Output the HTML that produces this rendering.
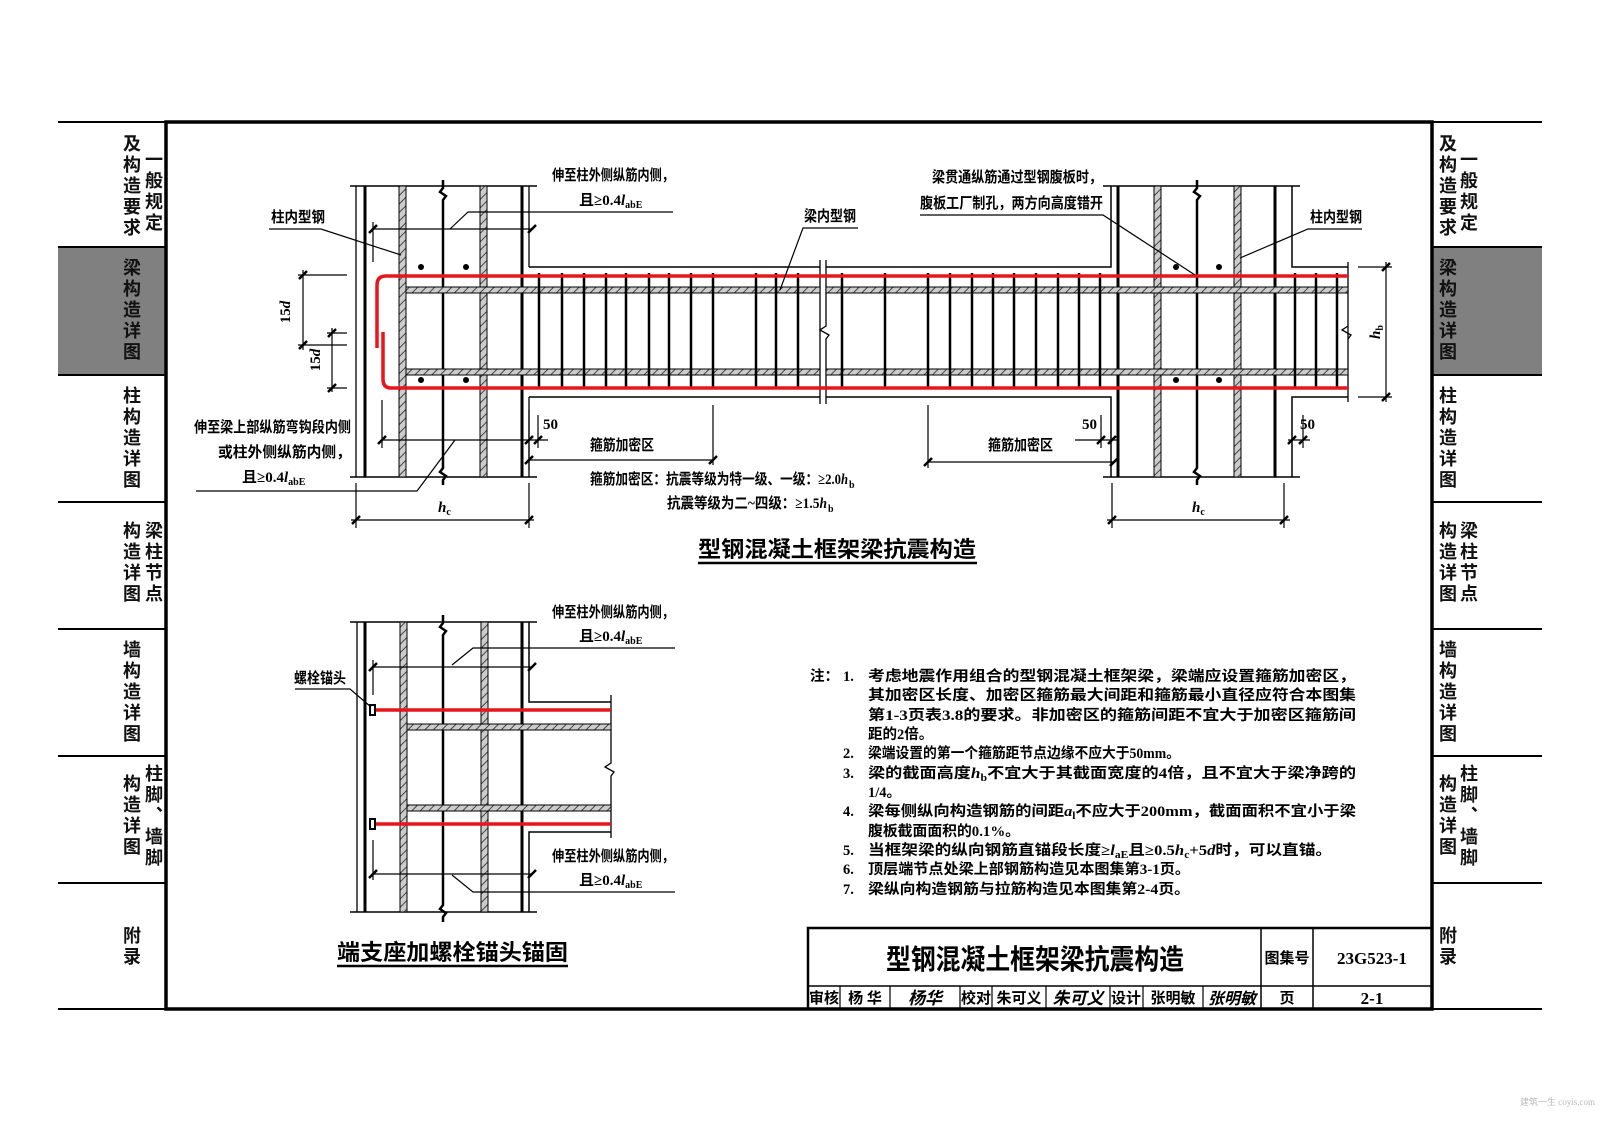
<!DOCTYPE html>
<html><head><meta charset="utf-8"><style>
html,body{margin:0;padding:0;background:#fff;}
body{width:1600px;height:1130px;position:relative;overflow:hidden;font-family:"Liberation Sans","Noto Sans CJK SC",sans-serif;}
svg{position:absolute;left:0;top:0;}
.v{position:absolute;writing-mode:vertical-rl;font-size:18px;font-weight:bold;line-height:18px;letter-spacing:3px;color:#111;font-family:"Liberation Sans","Noto Sans CJK SC",sans-serif;}
</style></head><body>
<svg width="1600" height="1130" viewBox="0 0 1600 1130" font-family="Liberation Serif, Noto Sans CJK SC, sans-serif">
<defs>
<pattern id="h" width="6" height="6" patternUnits="userSpaceOnUse" patternTransform="rotate(45)">
<rect width="6" height="6" fill="#ccc"/><line x1="0" y1="0" x2="0" y2="6" stroke="#444" stroke-width="2"/></pattern>
</defs>
<rect x="58" y="247" width="108" height="128" fill="#808080"/>
<rect x="1432" y="247" width="110" height="128" fill="#808080"/>
<g stroke="#000" stroke-width="2">
<line x1="58" y1="122" x2="166" y2="122"/><line x1="58" y1="247" x2="166" y2="247"/><line x1="58" y1="375" x2="166" y2="375"/><line x1="58" y1="502" x2="166" y2="502"/><line x1="58" y1="629" x2="166" y2="629"/><line x1="58" y1="756" x2="166" y2="756"/><line x1="58" y1="883" x2="166" y2="883"/><line x1="58" y1="1009" x2="166" y2="1009"/>
<line x1="1432" y1="122" x2="1542" y2="122"/><line x1="1432" y1="247" x2="1542" y2="247"/><line x1="1432" y1="375" x2="1542" y2="375"/><line x1="1432" y1="502" x2="1542" y2="502"/><line x1="1432" y1="629" x2="1542" y2="629"/><line x1="1432" y1="756" x2="1542" y2="756"/><line x1="1432" y1="883" x2="1542" y2="883"/><line x1="1432" y1="1009" x2="1542" y2="1009"/>
</g>
<rect x="166" y="122" width="1266" height="887" fill="none" stroke="#000" stroke-width="3.5"/>

<g stroke="#000" fill="none">
<line x1="350" y1="186" x2="537" y2="186" stroke-width="1.5"/>
<line x1="350" y1="477" x2="537" y2="477" stroke-width="1.5"/>
<line x1="356" y1="186" x2="356" y2="477" stroke-width="1.3"/>
<line x1="365" y1="186" x2="365" y2="477" stroke-width="3"/>
<line x1="522" y1="186" x2="522" y2="477" stroke-width="3"/>
<line x1="529" y1="186" x2="529" y2="267" stroke-width="1.3"/>
<line x1="529" y1="397" x2="529" y2="477" stroke-width="1.3"/>
<path d="M443 180 L443 188 L440 192 L446 196 L443 200 L443 468 L440 472 L446 476 L443 480 L443 485" stroke-width="2.5"/>
<path d="M529 267 L820 267 M826 267 L1111 267 L1111 186" stroke-width="1.5"/>
<path d="M529 397 L820 397 M826 397 L1111 397 L1111 477" stroke-width="1.5"/>
<line x1="1103" y1="186" x2="1300" y2="186" stroke-width="1.5"/>
<line x1="1103" y1="477" x2="1300" y2="477" stroke-width="1.5"/>
<line x1="1118" y1="186" x2="1118" y2="477" stroke-width="3"/>
<line x1="1275" y1="186" x2="1275" y2="477" stroke-width="3"/>
<path d="M1292 186 L1292 267 L1348 267 M1292 477 L1292 397 L1348 397" stroke-width="1.5"/>
<line x1="1348" y1="262" x2="1348" y2="402" stroke-width="1.3"/>
<path d="M1197 180 L1197 188 L1194 192 L1200 196 L1197 200 L1197 468 L1194 472 L1200 476 L1197 480 L1197 485" stroke-width="2.5"/>
<path d="M820 260 L820 404 M826 260 L826 326 L820 330 L829 335 L826 339 L826 404" stroke-width="1.3"/>
<path d="M1348 326 L1342 330 L1351 335 L1348 339" stroke-width="1.3"/>
</g>
<g stroke="#000" stroke-width="1" fill="url(#h)">
<rect x="399" y="186" width="7" height="291"/><rect x="480" y="186" width="7" height="291"/>
<rect x="1154" y="186" width="7" height="291"/><rect x="1234" y="186" width="7" height="291"/>
<rect x="406" y="287" width="414" height="6"/><rect x="826" y="287" width="522" height="6"/>
<rect x="406" y="369" width="414" height="6"/><rect x="826" y="369" width="522" height="6"/>
</g>
<g stroke="#000" stroke-width="2.5">
<line x1="539" y1="273" x2="539" y2="389"/><line x1="562" y1="273" x2="562" y2="389"/><line x1="584" y1="273" x2="584" y2="389"/><line x1="606" y1="273" x2="606" y2="389"/><line x1="626" y1="273" x2="626" y2="389"/><line x1="649" y1="273" x2="649" y2="389"/><line x1="669" y1="273" x2="669" y2="389"/><line x1="691" y1="273" x2="691" y2="389"/><line x1="713" y1="273" x2="713" y2="389"/><line x1="756" y1="273" x2="756" y2="389"/><line x1="776" y1="273" x2="776" y2="389"/><line x1="798" y1="273" x2="798" y2="389"/>
<line x1="842" y1="273" x2="842" y2="389"/><line x1="885" y1="273" x2="885" y2="389"/><line x1="928" y1="273" x2="928" y2="389"/><line x1="950" y1="273" x2="950" y2="389"/><line x1="972" y1="273" x2="972" y2="389"/><line x1="993" y1="273" x2="993" y2="389"/><line x1="1014" y1="273" x2="1014" y2="389"/><line x1="1036" y1="273" x2="1036" y2="389"/><line x1="1058" y1="273" x2="1058" y2="389"/><line x1="1079" y1="273" x2="1079" y2="389"/><line x1="1100" y1="273" x2="1100" y2="389"/>
<line x1="1295" y1="273" x2="1295" y2="389"/><line x1="1316" y1="273" x2="1316" y2="389"/><line x1="1337" y1="273" x2="1337" y2="389"/>
</g>
<g stroke="#e8161b" stroke-width="3.5" fill="none">
<path d="M1348 276 L386 276 Q377 276 377 285 L377 348"/>
<path d="M1348 388 L391 388 Q383 388 383 379 L383 332"/>
</g>
<g fill="#000"><circle cx="421" cy="267" r="3"/><circle cx="466" cy="267" r="3"/><circle cx="421" cy="380" r="3"/><circle cx="466" cy="380" r="3"/>
<circle cx="1176" cy="267" r="3"/><circle cx="1219" cy="267" r="3"/><circle cx="1176" cy="380" r="3"/><circle cx="1219" cy="380" r="3"/></g>

<g stroke="#000" stroke-width="1.2" fill="none">
<line x1="373" y1="229" x2="532" y2="229"/><line x1="373" y1="222" x2="373" y2="262"/>
<line x1="382" y1="440" x2="548" y2="440"/><line x1="382" y1="400" x2="382" y2="448"/><line x1="538" y1="415" x2="538" y2="448"/>
<line x1="529" y1="460" x2="713" y2="460"/><line x1="713" y1="405" x2="713" y2="465"/><line x1="529" y1="410" x2="529" y2="470"/>
<line x1="351" y1="520" x2="534" y2="520"/><line x1="356" y1="483" x2="356" y2="528"/><line x1="529" y1="483" x2="529" y2="528"/>
<line x1="298" y1="275" x2="347" y2="275"/><line x1="303" y1="270" x2="303" y2="350"/><line x1="298" y1="345" x2="347" y2="345"/>
<line x1="327" y1="333" x2="347" y2="333"/><line x1="332" y1="328" x2="332" y2="392"/><line x1="327" y1="388" x2="347" y2="388"/>
<line x1="1107" y1="520" x2="1290" y2="520"/><line x1="1112" y1="483" x2="1112" y2="528"/><line x1="1284" y1="483" x2="1284" y2="528"/>
<line x1="1075" y1="440" x2="1118" y2="440"/><line x1="1101" y1="415" x2="1101" y2="448"/>
<line x1="928" y1="462" x2="1114" y2="462"/><line x1="928" y1="405" x2="928" y2="468"/>
<line x1="1288" y1="440" x2="1310" y2="440"/><line x1="1303" y1="415" x2="1303" y2="448"/>
<line x1="1358" y1="267" x2="1392" y2="267"/><line x1="1358" y1="397" x2="1392" y2="397"/><line x1="1386" y1="262" x2="1386" y2="402"/>
<path d="M673 212 L468 212 L450 229"/>
<path d="M196 491 L417 491 L455 440"/>
<path d="M269 229 L321 229 L401 255"/>
<path d="M858 228 L803 228 L780 290"/>
<path d="M920 215 L1103 215 L1195 275"/>
<path d="M1362 229 L1308 229 L1240 258"/>
</g>
<g stroke="#000" stroke-width="2.5">
<line x1="369" y1="233" x2="377" y2="225"/><line x1="528" y1="233" x2="536" y2="225"/>
<line x1="378" y1="444" x2="386" y2="436"/><line x1="525" y1="444" x2="533" y2="436"/><line x1="534" y1="444" x2="542" y2="436"/>
<line x1="525" y1="464" x2="533" y2="456"/><line x1="709" y1="464" x2="717" y2="456"/>
<line x1="352" y1="524" x2="360" y2="516"/><line x1="525" y1="524" x2="533" y2="516"/>
<line x1="299" y1="279" x2="307" y2="271"/><line x1="299" y1="349" x2="307" y2="341"/><line x1="328" y1="337" x2="336" y2="329"/><line x1="328" y1="392" x2="336" y2="384"/>
<line x1="1108" y1="524" x2="1116" y2="516"/><line x1="1280" y1="524" x2="1288" y2="516"/>
<line x1="1097" y1="444" x2="1105" y2="436"/><line x1="1108" y1="444" x2="1116" y2="436"/>
<line x1="924" y1="466" x2="932" y2="458"/><line x1="1110" y1="466" x2="1118" y2="458"/>
<line x1="1288" y1="444" x2="1296" y2="436"/><line x1="1299" y1="444" x2="1307" y2="436"/>
<line x1="1382" y1="271" x2="1390" y2="263"/><line x1="1382" y1="401" x2="1390" y2="393"/>
</g>

<g font-size="15" font-weight="bold" fill="#000">
<text x="552" y="180" textLength="122" lengthAdjust="spacingAndGlyphs">伸至柱外侧纵筋内侧，</text>
<text x="579" y="205">且≥0.4<tspan font-style="italic">l</tspan><tspan font-size="10" dy="3">abE</tspan></text>
<text x="271" y="222" textLength="54" lengthAdjust="spacingAndGlyphs">柱内型钢</text>
<text x="804" y="221" textLength="52" lengthAdjust="spacingAndGlyphs">梁内型钢</text>
<text x="932" y="182" textLength="170" lengthAdjust="spacingAndGlyphs">梁贯通纵筋通过型钢腹板时，</text>
<text x="920" y="208" textLength="183" lengthAdjust="spacingAndGlyphs">腹板工厂制孔，两方向高度错开</text>
<text x="1310" y="222" textLength="52" lengthAdjust="spacingAndGlyphs">柱内型钢</text>
<text x="194" y="432" textLength="157" lengthAdjust="spacingAndGlyphs">伸至梁上部纵筋弯钩段内侧</text>
<text x="218" y="457" textLength="133" lengthAdjust="spacingAndGlyphs">或柱外侧纵筋内侧，</text>
<text x="242" y="482">且≥0.4<tspan font-style="italic">l</tspan><tspan font-size="10" dy="3">abE</tspan></text>
<text x="543" y="429">50</text>
<text x="590" y="450" textLength="64" lengthAdjust="spacingAndGlyphs">箍筋加密区</text>
<text x="590" y="484" textLength="258" lengthAdjust="spacingAndGlyphs">箍筋加密区：抗震等级为特一级、一级：≥2.0<tspan font-style="italic">h</tspan></text>
<text x="849" y="488" font-size="10">b</text>
<text x="667" y="508" textLength="160" lengthAdjust="spacingAndGlyphs">抗震等级为二~四级：≥1.5<tspan font-style="italic">h</tspan></text>
<text x="828" y="512" font-size="10">b</text>
<text x="988" y="450" textLength="65" lengthAdjust="spacingAndGlyphs">箍筋加密区</text>
<text x="1082" y="429">50</text>
<text x="1300" y="429">50</text>
<text x="438" y="512" font-style="italic">h<tspan font-size="10" dy="3" font-style="normal">c</tspan></text>
<text x="1192" y="512" font-style="italic">h<tspan font-size="10" dy="3" font-style="normal">c</tspan></text>
<text transform="translate(290,312) rotate(-90)" text-anchor="middle">15<tspan font-style="italic">d</tspan></text>
<text transform="translate(320,360) rotate(-90)" text-anchor="middle">15<tspan font-style="italic">d</tspan></text>
<text transform="translate(1380,332) rotate(-90)" text-anchor="middle" font-style="italic">h<tspan font-size="10" dy="3" font-style="normal">b</tspan></text>
</g>
<text x="698" y="557" font-size="22" font-weight="bold" textLength="278" lengthAdjust="spacingAndGlyphs" font-family="Liberation Sans, Noto Sans CJK SC, sans-serif">型钢混凝土框架梁抗震构造</text>
<line x1="698" y1="563" x2="977" y2="563" stroke="#000" stroke-width="2.5"/>

<g stroke="#000" fill="none">
<line x1="350" y1="622" x2="537" y2="622" stroke-width="1.5"/>
<line x1="350" y1="912" x2="537" y2="912" stroke-width="1.5"/>
<line x1="357" y1="622" x2="357" y2="912" stroke-width="1.3"/>
<line x1="365" y1="622" x2="365" y2="912" stroke-width="3"/>
<line x1="522" y1="622" x2="522" y2="912" stroke-width="3"/>
<path d="M529 622 L529 702 L611 702 M529 912 L529 832 L611 832" stroke-width="1.5"/>
<path d="M443 615 L443 623 L440 627 L446 631 L443 635 L443 905 L440 909 L446 913 L443 917 L443 922" stroke-width="2.5"/>
<path d="M611 695 L611 763 L605 767 L614 772 L611 776 L611 838" stroke-width="1.3"/>
</g>
<g stroke="#000" stroke-width="1" fill="url(#h)">
<rect x="400" y="622" width="7" height="290"/><rect x="481" y="622" width="7" height="290"/>
<rect x="407" y="724" width="204" height="6"/><rect x="407" y="805" width="204" height="6"/>
</g>
<g stroke="#e8161b" stroke-width="3.5"><line x1="376" y1="710" x2="611" y2="710"/><line x1="376" y1="824" x2="611" y2="824"/></g>
<g fill="#fff" stroke="#000" stroke-width="2"><rect x="370" y="705" width="5" height="10"/><rect x="370" y="819" width="5" height="10"/></g>
<g stroke="#000" stroke-width="1.2" fill="none">
<line x1="373" y1="667" x2="532" y2="667"/><line x1="373" y1="660" x2="373" y2="695"/>
<line x1="373" y1="874" x2="532" y2="874"/><line x1="373" y1="840" x2="373" y2="880"/>
<path d="M675 648 L473 648 L452 665"/>
<path d="M675 892 L473 892 L452 875"/>
<path d="M295 689 L350 689 L371 707"/>
</g>
<g stroke="#000" stroke-width="2.5">
<line x1="369" y1="671" x2="377" y2="663"/><line x1="528" y1="671" x2="536" y2="663"/>
<line x1="369" y1="878" x2="377" y2="870"/><line x1="528" y1="878" x2="536" y2="870"/>
</g>
<g font-size="15" font-weight="bold" fill="#000">
<text x="552" y="617" textLength="122" lengthAdjust="spacingAndGlyphs">伸至柱外侧纵筋内侧，</text>
<text x="579" y="641">且≥0.4<tspan font-style="italic">l</tspan><tspan font-size="10" dy="3">abE</tspan></text>
<text x="294" y="683" textLength="52" lengthAdjust="spacingAndGlyphs">螺栓锚头</text>
<text x="552" y="861" textLength="122" lengthAdjust="spacingAndGlyphs">伸至柱外侧纵筋内侧，</text>
<text x="579" y="885">且≥0.4<tspan font-style="italic">l</tspan><tspan font-size="10" dy="3">abE</tspan></text>
</g>
<text x="337" y="960" font-size="22" font-weight="bold" textLength="231" lengthAdjust="spacingAndGlyphs" font-family="Liberation Sans, Noto Sans CJK SC, sans-serif">端支座加螺栓锚头锚固</text>
<line x1="337" y1="966" x2="568" y2="966" stroke="#000" stroke-width="2.5"/>

<g font-size="14.5" font-weight="bold" fill="#000">
<text x="810" y="681">注：</text>
<text x="843" y="681">1.</text><text x="868" y="681" textLength="488" lengthAdjust="spacingAndGlyphs">考虑地震作用组合的型钢混凝土框架梁，梁端应设置箍筋加密区，</text>
<text x="868" y="700" textLength="488" lengthAdjust="spacingAndGlyphs">其加密区长度、加密区箍筋最大间距和箍筋最小直径应符合本图集</text>
<text x="868" y="720" textLength="488" lengthAdjust="spacingAndGlyphs">第1-3页表3.8的要求。非加密区的箍筋间距不宜大于加密区箍筋间</text>
<text x="868" y="739">距的2倍。</text>
<text x="843" y="758">2.</text><text x="868" y="758" textLength="312" lengthAdjust="spacingAndGlyphs">梁端设置的第一个箍筋距节点边缘不应大于50mm。</text>
<text x="843" y="778">3.</text><text x="868" y="778" textLength="488" lengthAdjust="spacingAndGlyphs">梁的截面高度<tspan font-style="italic">h</tspan><tspan font-size="10" dy="3">b</tspan><tspan dy="-3">不宜大于其截面宽度的4倍，且不宜大于梁净跨的</tspan></text>
<text x="868" y="797">1/4。</text>
<text x="843" y="816">4.</text><text x="868" y="816" textLength="488" lengthAdjust="spacingAndGlyphs">梁每侧纵向构造钢筋的间距<tspan font-style="italic">a</tspan><tspan font-size="10" dy="3">l</tspan><tspan dy="-3">不应大于200mm，截面面积不宜小于梁</tspan></text>
<text x="868" y="836" textLength="152" lengthAdjust="spacingAndGlyphs">腹板截面面积的0.1%。</text>
<text x="843" y="855">5.</text><text x="868" y="855" textLength="464" lengthAdjust="spacingAndGlyphs">当框架梁的纵向钢筋直锚段长度≥<tspan font-style="italic">l</tspan><tspan font-size="10" dy="3">aE</tspan><tspan dy="-3">且≥0.5</tspan><tspan font-style="italic">h</tspan><tspan font-size="10" dy="3">c</tspan><tspan dy="-3">+5</tspan><tspan font-style="italic">d</tspan>时，可以直锚。</text>
<text x="843" y="874">6.</text><text x="868" y="874" textLength="322" lengthAdjust="spacingAndGlyphs">顶层端节点处梁上部钢筋构造见本图集第3-1页。</text>
<text x="843" y="894">7.</text><text x="868" y="894" textLength="322" lengthAdjust="spacingAndGlyphs">梁纵向构造钢筋与拉筋构造见本图集第2-4页。</text>
</g>

<g stroke="#000" fill="none">
<rect x="808" y="928" width="624" height="81" stroke-width="2.5"/>
<line x1="808" y1="986" x2="1432" y2="986" stroke-width="1.5"/>
<line x1="1261" y1="928" x2="1261" y2="1009" stroke-width="1.5"/>
<line x1="1313" y1="928" x2="1313" y2="1009" stroke-width="1.5"/>
<g stroke-width="1.2"><line x1="840" y1="986" x2="840" y2="1009"/><line x1="890" y1="986" x2="890" y2="1009"/><line x1="960" y1="986" x2="960" y2="1009"/><line x1="992" y1="986" x2="992" y2="1009"/><line x1="1046" y1="986" x2="1046" y2="1009"/><line x1="1110" y1="986" x2="1110" y2="1009"/><line x1="1143" y1="986" x2="1143" y2="1009"/><line x1="1203" y1="986" x2="1203" y2="1009"/></g>
</g>
<text x="1035" y="969" font-size="28" font-weight="bold" text-anchor="middle" textLength="298" lengthAdjust="spacingAndGlyphs" font-family="Liberation Sans, Noto Sans CJK SC, sans-serif">型钢混凝土框架梁抗震构造</text>
<g font-size="15" font-weight="bold" text-anchor="middle">
<text x="1287" y="963">图集号</text>
<text x="1372" y="964" font-size="17">23G523-1</text>
<text x="824" y="1003">审核</text>
<text x="865" y="1003">杨 华</text>
<text x="976" y="1003">校对</text>
<text x="1019" y="1003">朱可义</text>
<text x="1126" y="1003">设计</text>
<text x="1173" y="1003">张明敏</text>
<text x="1287" y="1003">页</text>
<text x="1372" y="1004" font-size="17">2-1</text>
<text x="925" y="1004" font-style="italic" font-size="17">杨华</text>
<text x="1078" y="1004" font-style="italic" font-size="17">朱可义</text>
<text x="1232" y="1004" font-style="italic" font-size="16">张明敏</text>
</g>
<text x="1520" y="1105" font-size="9" fill="#bbb">建筑一生 coyis.com</text>
</svg>

<div class="v" style="left:122px;top:134px">及构造要求</div>
<div class="v" style="left:144px;top:150px">一般规定</div>
<div class="v" style="left:122px;top:258px">梁构造详图</div>
<div class="v" style="left:122px;top:386px">柱构造详图</div>
<div class="v" style="left:144px;top:521px">梁柱节点</div>
<div class="v" style="left:122px;top:521px">构造详图</div>
<div class="v" style="left:122px;top:640px">墙构造详图</div>
<div class="v" style="left:144px;top:764px">柱脚、墙脚</div>
<div class="v" style="left:122px;top:774px">构造详图</div>
<div class="v" style="left:122px;top:926px">附录</div>

<div class="v" style="left:1438px;top:134px">及构造要求</div>
<div class="v" style="left:1459px;top:150px">一般规定</div>
<div class="v" style="left:1438px;top:258px">梁构造详图</div>
<div class="v" style="left:1438px;top:386px">柱构造详图</div>
<div class="v" style="left:1459px;top:521px">梁柱节点</div>
<div class="v" style="left:1438px;top:521px">构造详图</div>
<div class="v" style="left:1438px;top:640px">墙构造详图</div>
<div class="v" style="left:1459px;top:764px">柱脚、墙脚</div>
<div class="v" style="left:1438px;top:774px">构造详图</div>
<div class="v" style="left:1438px;top:926px">附录</div>
</body></html>
